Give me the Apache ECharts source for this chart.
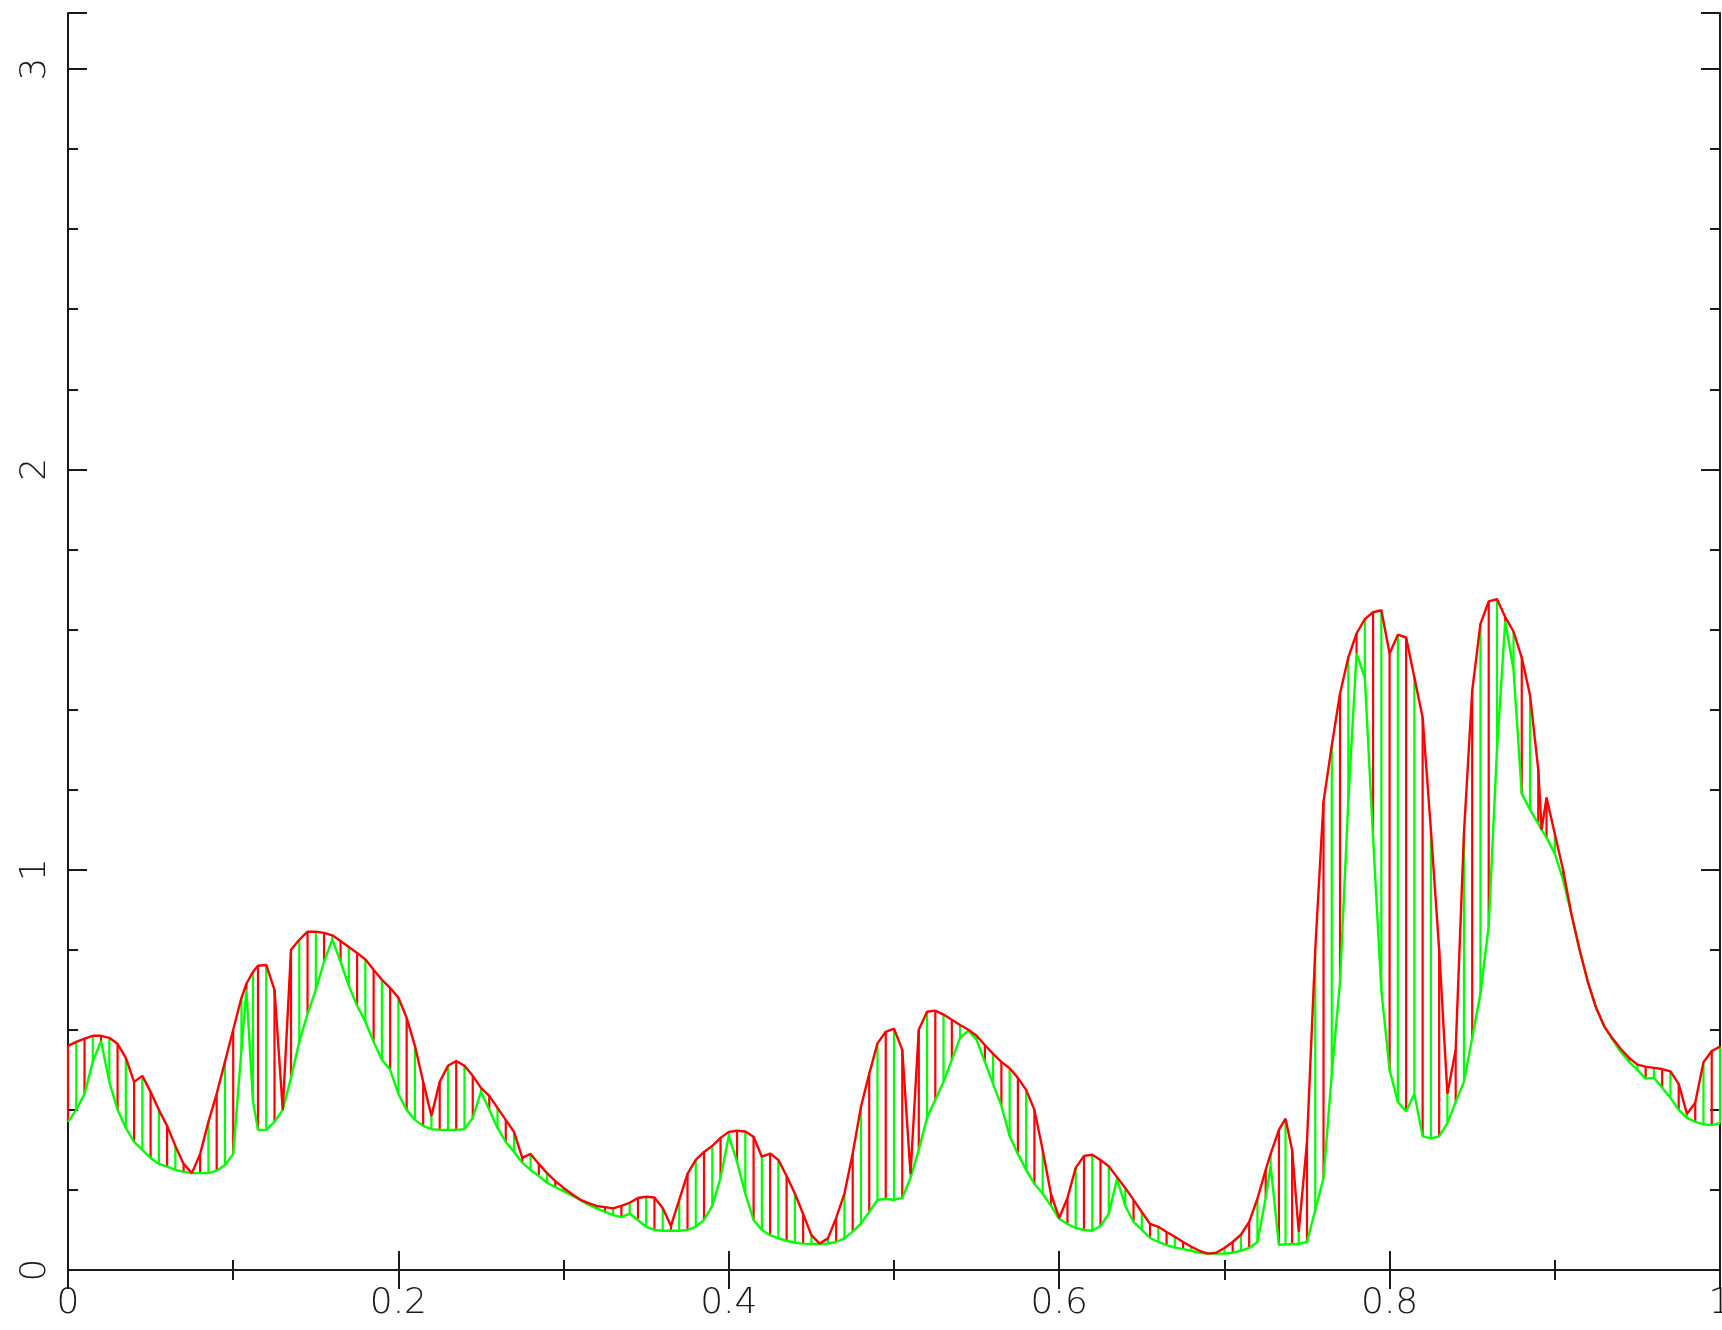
<!DOCTYPE html>
<html>
<head>
<meta charset="utf-8">
<script src="https://cdn.jsdelivr.net/npm/echarts@6/dist/echarts.min.js"></script>
<style>
  html, body { margin: 0; padding: 0; background: #fff; }
  #main { width: 1722px; height: 1330px; }
</style>
</head>
<body>
<div id="main"></div>
<script>
// sample positions (x)
var xs = [
  0.000,0.005,0.010,0.015,0.020,0.025,0.030,0.035,0.040,0.045,
  0.050,0.055,0.060,0.065,0.070,0.075,0.080,0.085,0.090,0.095,
  0.100,0.105,0.108,0.112,0.115,0.120,0.125,0.130,0.135,0.140,
  0.145,0.150,0.155,0.160,0.165,0.170,0.175,0.180,0.185,0.190,
  0.195,0.200,0.205,0.210,0.215,0.220,0.225,0.230,0.235,0.240,
  0.245,0.250,0.255,0.260,0.265,0.270,0.275,0.280,0.285,0.290,
  0.295,0.300,0.305,0.310,0.315,0.320,0.325,0.330,0.335,0.340,
  0.345,0.350,0.355,0.360,0.365,0.370,0.375,0.380,0.385,0.390,
  0.395,0.400,0.405,0.410,0.415,0.420,0.425,0.430,0.435,0.440,
  0.445,0.450,0.455,0.460,0.465,0.470,0.475,0.480,0.485,0.490,
  0.495,0.500,0.505,0.510,0.515,0.520,0.525,0.530,0.535,0.540,
  0.545,0.550,0.555,0.560,0.565,0.570,0.575,0.580,0.585,0.590,
  0.595,0.600,0.605,0.610,0.615,0.620,0.625,0.630,0.635,0.640,
  0.645,0.650,0.655,0.660,0.665,0.670,0.675,0.680,0.685,0.690,
  0.695,0.700,0.705,0.710,0.715,0.720,0.725,0.728,0.733,0.737,
  0.741,0.745,0.750,0.755,0.760,0.765,0.770,0.775,0.780,0.785,
  0.790,0.795,0.800,0.805,0.810,0.815,0.820,0.825,0.830,0.835,
  0.840,0.845,0.850,0.855,0.860,0.865,0.870,0.875,0.880,0.885,
  0.890,0.892,0.895,0.900,0.905,0.910,0.915,0.920,0.925,0.930,
  0.935,0.940,0.945,0.950,0.955,0.960,0.965,0.970,0.975,0.980,
  0.985,0.990,0.995,1.000
];

// red trace (upper envelope)
var upper = [
  0.560,0.570,0.578,0.585,0.585,0.580,0.565,0.530,0.470,0.485,
  0.445,0.400,0.360,0.310,0.265,0.242,0.290,0.370,0.440,0.520,
  0.600,0.680,0.715,0.745,0.760,0.762,0.700,0.400,0.800,0.825,
  0.845,0.845,0.842,0.836,0.822,0.807,0.792,0.776,0.750,0.725,
  0.705,0.680,0.630,0.560,0.470,0.385,0.470,0.510,0.522,0.510,
  0.485,0.455,0.435,0.405,0.375,0.345,0.280,0.290,0.265,0.242,
  0.222,0.205,0.190,0.176,0.167,0.160,0.157,0.154,0.160,0.168,
  0.180,0.183,0.181,0.155,0.110,0.175,0.240,0.275,0.295,0.310,
  0.330,0.345,0.348,0.346,0.333,0.283,0.291,0.275,0.235,0.191,
  0.140,0.087,0.066,0.079,0.130,0.191,0.291,0.408,0.490,0.566,
  0.595,0.603,0.550,0.240,0.600,0.645,0.648,0.638,0.625,0.612,
  0.600,0.585,0.562,0.540,0.520,0.504,0.480,0.450,0.400,0.300,
  0.190,0.130,0.180,0.255,0.285,0.288,0.275,0.259,0.232,0.205,
  0.175,0.145,0.115,0.108,0.095,0.083,0.070,0.058,0.048,0.041,
  0.043,0.055,0.070,0.088,0.120,0.178,0.250,0.290,0.350,0.378,
  0.300,0.095,0.320,0.800,1.170,1.310,1.440,1.530,1.590,1.626,
  1.643,1.648,1.540,1.587,1.580,1.480,1.380,1.100,0.800,0.440,
  0.550,1.090,1.447,1.614,1.670,1.676,1.631,1.595,1.530,1.436,
  1.250,1.100,1.180,1.090,1.000,0.890,0.800,0.720,0.655,0.608,
  0.578,0.552,0.530,0.513,0.508,0.505,0.502,0.496,0.465,0.390,
  0.418,0.519,0.547,0.558
];

// green trace (lower envelope)
var lower = [
  0.370,0.400,0.440,0.520,0.572,0.470,0.400,0.355,0.320,0.300,
  0.280,0.265,0.258,0.250,0.245,0.242,0.242,0.242,0.248,0.262,
  0.290,0.550,0.700,0.420,0.350,0.350,0.370,0.400,0.480,0.570,
  0.640,0.700,0.770,0.826,0.770,0.710,0.660,0.620,0.570,0.525,
  0.500,0.440,0.400,0.375,0.360,0.352,0.350,0.350,0.350,0.352,
  0.380,0.445,0.400,0.355,0.320,0.295,0.268,0.250,0.235,0.218,
  0.207,0.197,0.186,0.175,0.163,0.154,0.145,0.137,0.132,0.141,
  0.125,0.108,0.100,0.098,0.098,0.098,0.100,0.108,0.125,0.160,
  0.230,0.335,0.270,0.190,0.125,0.100,0.087,0.079,0.073,0.068,
  0.066,0.065,0.065,0.066,0.070,0.079,0.096,0.116,0.145,0.175,
  0.178,0.175,0.180,0.230,0.300,0.380,0.425,0.470,0.525,0.580,
  0.598,0.575,0.520,0.465,0.410,0.335,0.290,0.250,0.215,0.191,
  0.160,0.128,0.115,0.105,0.100,0.098,0.110,0.140,0.228,0.160,
  0.120,0.100,0.080,0.070,0.062,0.056,0.052,0.048,0.043,0.041,
  0.041,0.041,0.043,0.048,0.055,0.070,0.180,0.260,0.063,0.064,
  0.065,0.065,0.070,0.150,0.230,0.490,0.720,1.170,1.540,1.480,
  1.080,0.700,0.500,0.420,0.396,0.440,0.334,0.329,0.334,0.367,
  0.420,0.470,0.580,0.690,0.860,1.300,1.620,1.500,1.190,1.150,
  1.115,1.100,1.080,1.040,0.975,0.890,0.800,0.720,0.655,0.608,
  0.575,0.545,0.520,0.500,0.478,0.480,0.455,0.430,0.400,0.380,
  0.370,0.364,0.362,0.367
];

var xRange = [0, 1];
var yRange = [0, 3.14];
var yLabelValues = [0, 1, 2, 3];

var ink = '#1a1a1a';
var RED = '#ff0000';
var GREEN = '#00ff00';

var chart = echarts.init(document.getElementById('main'));

function xAx(pos, labels) {
  return {
    type: 'value', position: pos, min: xRange[0], max: xRange[1], interval: 0.2,
    axisLine: { lineStyle: { color: ink, width: 2 } },
    axisTick: { inside: true, length: 19, lineStyle: { color: ink, width: 2 } },
    minorTick: { show: true, splitNumber: 2, length: 10, lineStyle: { color: ink, width: 2 } },
    splitLine: { show: false },
    axisLabel: labels ? { show: true, fontSize: 36, color: ink, margin: 16, fontFamily: 'DejaVu Sans', fontWeight: 200 } : { show: false }
  };
}

// major (step 1) and minor (step 0.2) y ticks are drawn by two stacked axes
function yAx(pos, step, len, labels) {
  return {
    type: 'value', position: pos, min: yRange[0], max: yRange[1], interval: step,
    axisLine: { show: step === 1, lineStyle: { color: ink, width: 2 } },
    axisTick: { inside: true, length: len, lineStyle: { color: ink, width: 2 } },
    splitLine: { show: false },
    axisLabel: labels ? {
      show: true, rotate: 90, fontSize: 36, color: ink, margin: 14,
      fontFamily: 'DejaVu Sans', fontWeight: 200,
      formatter: function (v) { return yLabelValues.indexOf(v) >= 0 ? String(v) : ''; }
    } : { show: false }
  };
}

var sticks = xs.map(function (x, i) { return [x, lower[i], upper[i], i]; });

chart.setOption({
  animation: false,
  backgroundColor: '#fff',
  grid: { left: 68, right: 2, top: 13, bottom: 60, outerBoundsMode: 'none', containLabel: false },
  xAxis: [xAx('bottom', true), xAx('top', false)],
  yAxis: [
    yAx('left', 1, 19, true),
    yAx('left', 0.2, 10, false),
    yAx('right', 1, 19, false),
    yAx('right', 0.2, 10, false)
  ],
  series: [
    {
      type: 'custom',
      xAxisIndex: 0, yAxisIndex: 0,
      encode: { x: 0, y: [1, 2] },
      data: sticks,
      renderItem: function (params, api) {
        var a = api.coord([api.value(0), api.value(1)]);
        var b = api.coord([api.value(0), api.value(2)]);
        return {
          type: 'line',
          shape: { x1: a[0], y1: a[1], x2: b[0], y2: b[1] },
          style: { stroke: api.value(3) % 2 ? GREEN : RED, lineWidth: 2.2 }
        };
      },
      z: 1
    },
    {
      type: 'line',
      xAxisIndex: 0, yAxisIndex: 0,
      data: xs.map(function (x, i) { return [x, lower[i]]; }),
      symbol: 'none',
      lineStyle: { color: GREEN, width: 2.4 },
      z: 2
    },
    {
      type: 'line',
      xAxisIndex: 0, yAxisIndex: 0,
      data: xs.map(function (x, i) { return [x, upper[i]]; }),
      symbol: 'none',
      lineStyle: { color: RED, width: 2.4 },
      z: 3
    }
  ]
});
</script>
</body>
</html>
